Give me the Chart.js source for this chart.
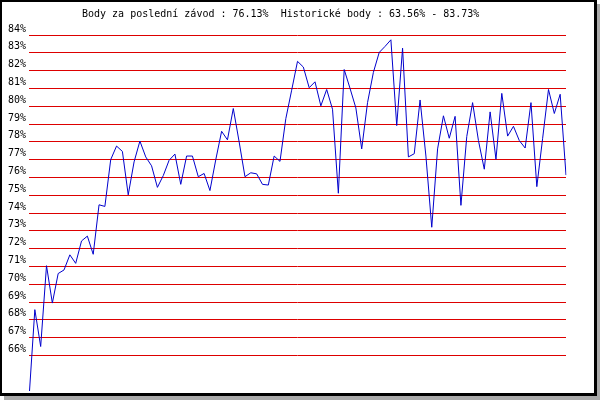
<!DOCTYPE html>
<html>
<head>
<meta charset="utf-8">
<title>Body</title>
<script src="https://cdn.jsdelivr.net/npm/chart.js@4"></script>
<style>
    body { margin: 0; background: #fff; }
    #wrap { position: relative; width: 600px; height: 400px; }
    #chart { position: absolute; left: 0; top: 0; }
    #frame {
        position: absolute; left: 0; top: 0;
        width: 597px; height: 396px; box-sizing: border-box;
        border-style: solid; border-color: #000; border-width: 2px 3px 3px 2px;
        box-shadow: 4px 4px 0 #aaaaaa;
        pointer-events: none; z-index: 1;
    }
</style>
</head>
<body>
<div id="wrap">
    <canvas id="chart" width="600" height="400"></canvas>
    <div id="frame"></div>
</div>
<script>
// Chart data
const titleText = 'Body za poslední závod : 76.13%  Historické body : 63.56% - 83.73%';

const races = [];
for (let i = 1; i <= 93; i++) races.push(i);

const scores = [
    63.56, 68.57, 66.5, 71.04, 68.94, 70.6, 70.8, 71.65, 71.17, 72.43,
    72.7, 71.68, 74.46, 74.37, 77.0, 77.76, 77.46, 75.02, 76.87, 78.04,
    77.15, 76.65, 75.44, 76.1, 76.96, 77.31, 75.61, 77.2, 77.2, 76.04,
    76.22, 75.26, 77.0, 78.59, 78.11, 79.87, 78.0, 76.04, 76.26, 76.2,
    75.61, 75.57, 77.2, 76.9, 79.3, 80.9, 82.52, 82.2, 81.04, 81.37,
    80.02, 80.94, 79.83, 75.11, 82.06, 81.0, 79.9, 77.6, 80.2, 81.9,
    83.02, 83.36, 83.73, 78.91, 83.26, 77.15, 77.33, 80.35, 77.2, 73.2,
    77.6, 79.46, 78.2, 79.43, 74.43, 78.3, 80.2, 78.07, 76.46, 79.68,
    77.02, 80.72, 78.32, 78.87, 78.07, 77.65, 80.2, 75.48, 78.2, 80.94,
    79.59, 80.67, 76.13
];

const yTicks = [66, 67, 68, 69, 70, 71, 72, 73, 74, 75, 76, 77, 78, 79, 80, 81, 82, 83, 84];

// Title line at the top
const titlePlugin = {
    id: 'topTitle',
    afterDraw(chart) {
        const ctx = chart.ctx;
        ctx.save();
        ctx.font = '10px "DejaVu Sans Mono"';
        ctx.fillStyle = '#000';
        ctx.textBaseline = 'alphabetic';
        ctx.fillText(titleText, 82, 17);
        ctx.restore();
    }
};

const chart = new Chart(document.getElementById('chart').getContext('2d'), {
    type: 'line',
    data: {
        labels: races,
        datasets: [{
            data: scores,
            borderColor: '#0000cc',
            borderWidth: 1,
            pointRadius: 0,
            tension: 0,
            fill: false
        }]
    },
    options: {
        responsive: false,
        animation: false,
        layout: { padding: { top: 35, bottom: 5, left: 0, right: 34 } },
        plugins: {
            legend: { display: false },
            tooltip: { enabled: false }
        },
        scales: {
            x: { display: false },
            y: {
                min: 64,
                max: 84,
                afterFit: (scale) => { scale.width = 29; },
                afterBuildTicks: (scale) => { scale.ticks = yTicks.map(v => ({ value: v })); },
                border: { display: false },
                grid: { color: '#dd0000', lineWidth: 1, drawTicks: false },
                ticks: {
                    padding: 3,
                    labelOffset: -6,
                    color: '#000',
                    font: { family: 'DejaVu Sans Mono', size: 10 },
                    callback: (v) => v + '%'
                }
            }
        }
    },
    plugins: [titlePlugin]
});
</script>
</body>
</html>
